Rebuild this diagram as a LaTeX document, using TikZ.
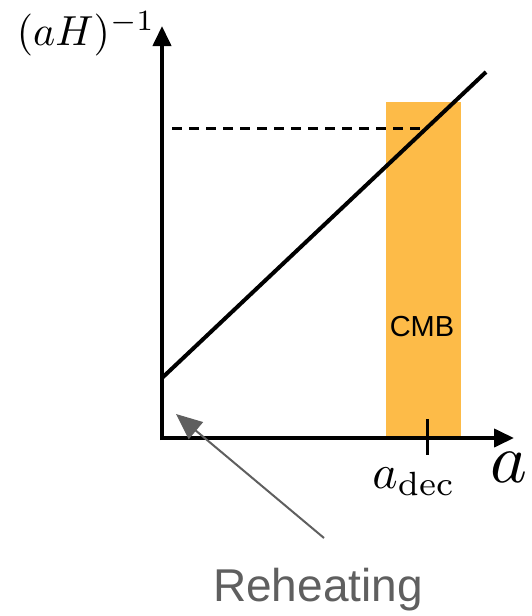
\documentclass[tikz,border=0pt]{standalone}
\usepackage{fontspec}
\newfontfamily\arialfont{Liberation Sans}
\usetikzlibrary{arrows.meta}
\definecolor{cmbor}{RGB}{253,187,72}
\definecolor{rhgray}{RGB}{95,95,95}
\begin{document}
\begin{tikzpicture}[x=1pt,y=-1pt,
  axis/.style={line width=4pt,-{Triangle[length=20pt,width=18pt]}},
  curve/.style={line width=4pt},
  lbl/.style={inner sep=0pt}]
\useasboundingbox (0,0) rectangle (531,616);
\fill[cmbor] (386,102) rectangle (461,438);
\coordinate (O) at (162,438);
\coordinate (yt) at (162,26);
\coordinate (xt) at (514,438);
\draw[axis] (160,438) -- (xt);
\draw[axis] (162,440) -- (yt);
\coordinate (p0) at (162,378);
\coordinate (p1) at (486,72);
\draw[curve] (p0) -- (p1);
\coordinate (d0) at (172,128);
\coordinate (d1) at (424,128);
\draw[line width=3pt,dash pattern=on 10pt off 7pt] (d0) -- (d1);
\coordinate (t0) at (427,419);
\coordinate (t1) at (427,455);
\draw[line width=3pt] (t0) -- (t1);
\node[lbl,scale=4.2] (ylab) at (86,34) {$(aH)^{-1}$};
\node[lbl,scale=7] (xlab) at (509,467) {$a$};
\node[lbl,scale=4.8] (adec) at (414,482) {$a_{\mathrm{dec}}$};
\node[lbl] (cmb) at (422,327) {\arialfont\fontsize{29}{32}\selectfont CMB};
\node[lbl,text=rhgray] (reh) at (318,590) {\arialfont\fontsize{46}{50}\selectfont Reheating};
\coordinate (rs) at (324,538);
\coordinate (re) at (176,414);
\draw[rhgray,line width=2pt,-{Triangle[length=26pt,width=22pt]}] (rs) -- (re);
\end{tikzpicture}
\end{document}
